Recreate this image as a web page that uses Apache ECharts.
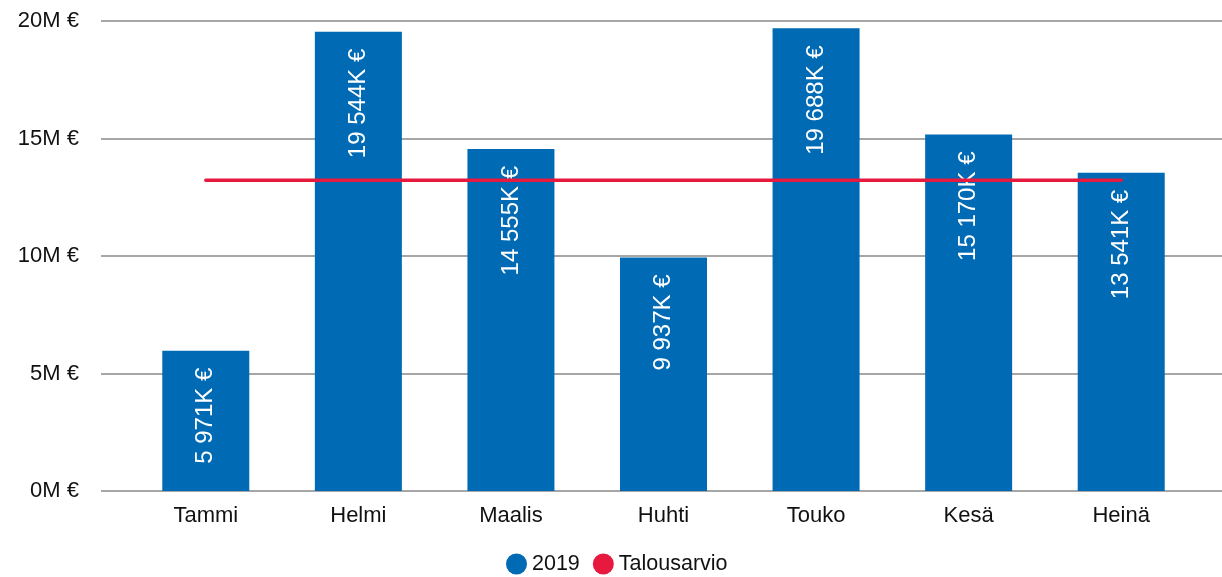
<!DOCTYPE html>
<html>
<head>
<meta charset="utf-8">
<script src="https://cdn.jsdelivr.net/npm/echarts@6/dist/echarts.min.js"></script>
<style>
html,body{margin:0;padding:0;background:#fff;}
#chart{width:1222px;height:577px;}
</style>
</head>
<body>
<div id="chart"></div>
<script>
const categories = ['Tammi', 'Helmi', 'Maalis', 'Huhti', 'Touko', 'Kesä', 'Heinä'];
const values2019 = [5971000, 19544000, 14555000, 9937000, 19688000, 15170000, 13541000];
const budget = [13220000, 13220000, 13220000, 13220000, 13220000, 13220000, 13220000];
const yTicks = { min: 0, max: 20000000, interval: 5000000 };
const seriesNames = ['2019', 'Talousarvio'];

const FONT = '"Liberation Sans", Arial, sans-serif';
const chart = echarts.init(document.getElementById('chart'), null, { renderer: 'canvas' });

function fmtK(v) {
  const k = Math.round(v / 1000);
  const s = String(k).replace(/\B(?=(\d{3})+(?!\d))/g, ' ');
  return s + 'K €';
}

chart.setOption({
  animation: false,
  textStyle: { fontFamily: FONT },
  grid: [
    { left: 101, right: 0, top: 21, bottom: 86 },
    { left: 129.5, right: 24.5, top: 21, bottom: 86 }
  ],
  legend: {
    bottom: 2,
    left: 506,
    padding: 0,
    icon: 'circle',
    itemWidth: 21,
    itemHeight: 21,
    itemGap: 13,
    textStyle: { fontFamily: FONT, fontSize: 21.5, color: '#111' },
    data: seriesNames
  },
  xAxis: [
    { gridIndex: 0, type: 'category', data: categories, show: false },
    {
      gridIndex: 1,
      type: 'category',
      data: categories,
      axisLine: { show: false },
      axisTick: { show: false },
      axisLabel: { fontFamily: FONT, fontSize: 22, color: '#111', margin: 14 }
    }
  ],
  yAxis: [
    {
      gridIndex: 0,
      type: 'value',
      min: yTicks.min, max: yTicks.max, interval: yTicks.interval,
      axisLine: { show: false },
      axisTick: { show: false },
      axisLabel: {
        fontFamily: FONT, fontSize: 22, color: '#111', margin: 22,
        formatter: v => (v / 1000000) + 'M €'
      },
      splitLine: { lineStyle: { color: '#a6a6a6', width: 2 } }
    },
    {
      gridIndex: 1,
      type: 'value',
      min: yTicks.min, max: yTicks.max, interval: yTicks.interval,
      show: false,
      splitLine: { show: false }
    }
  ],
  series: [
    {
      name: seriesNames[0],
      type: 'bar',
      xAxisIndex: 1, yAxisIndex: 1,
      data: values2019,
      barWidth: 87,
      itemStyle: { color: '#006ab5' },
      label: {
        show: true,
        position: 'insideTop',
        rotate: 90,
        align: 'right',
        verticalAlign: 'middle',
        distance: 17,
        color: '#ffffff',
        fontFamily: FONT,
        fontSize: 24,
        formatter: p => fmtK(p.value)
      },
      z: 2
    },
    {
      name: seriesNames[1],
      type: 'line',
      xAxisIndex: 1, yAxisIndex: 1,
      data: budget,
      showSymbol: false,
      symbol: 'circle',
      itemStyle: { color: '#e8193f' },
      lineStyle: { color: '#e8193f', width: 3.5, cap: 'round' },
      z: 3
    }
  ]
});
</script>
</body>
</html>
